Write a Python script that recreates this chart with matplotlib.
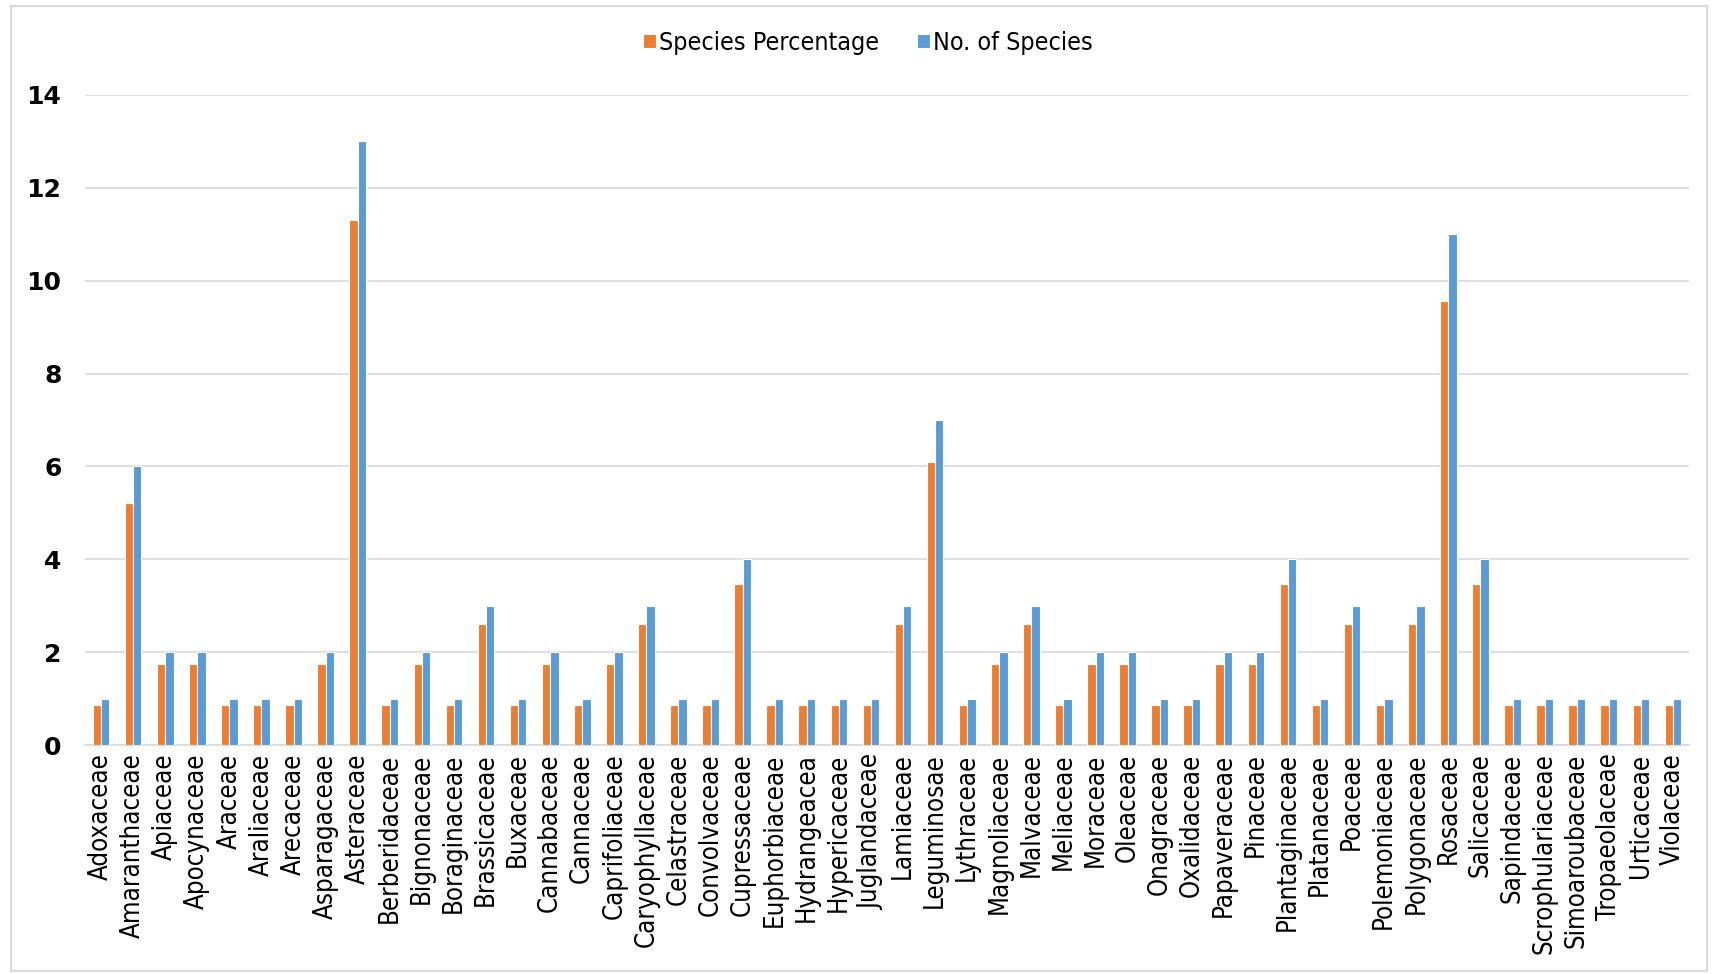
import numpy as np
import matplotlib.pyplot as plt
from matplotlib.patches import Rectangle
from matplotlib import font_manager

families = [
    'Adoxaceae', 'Amaranthaceae', 'Apiaceae', 'Apocynaceae', 'Araceae',
    'Araliaceae', 'Arecaceae', 'Asparagaceae', 'Asteraceae', 'Berberidaceae',
    'Bignonaceae', 'Boraginaceae', 'Brassicaceae', 'Buxaceae', 'Cannabaceae',
    'Cannaceae', 'Caprifoliaceae', 'Caryophyllaceae', 'Celastraceae', 'Convolvaceae',
    'Cupressaceae', 'Euphorbiaceae', 'Hydrangeacea', 'Hypericaceae', 'Juglandaceae',
    'Lamiaceae', 'Leguminosae', 'Lythraceae', 'Magnoliaceae', 'Malvaceae',
    'Meliaceae', 'Moraceae', 'Oleaceae', 'Onagraceae', 'Oxalidaceae',
    'Papaveraceae', 'Pinaceae', 'Plantaginaceae', 'Platanaceae', 'Poaceae',
    'Polemoniaceae', 'Polygonaceae', 'Rosaceae', 'Salicaceae', 'Sapindaceae',
    'Scrophulariaceae', 'Simoaroubaceae', 'Tropaeolaceae', 'Urticaceae', 'Violaceae',
]

n_species = [1, 6, 2, 2, 1, 1, 1, 2, 13, 1,
             2, 1, 3, 1, 2, 1, 2, 3, 1, 1,
             4, 1, 1, 1, 1, 3, 7, 1, 2, 3,
             1, 2, 2, 1, 1, 2, 2, 4, 1, 3,
             1, 3, 11, 4, 1, 1, 1, 1, 1, 1]

species_pct = [0.87, 5.22, 1.74, 1.74, 0.87, 0.87, 0.87, 1.74, 11.30, 0.87,
               1.74, 0.87, 2.61, 0.87, 1.74, 0.87, 1.74, 2.61, 0.87, 0.87,
               3.48, 0.87, 0.87, 0.87, 0.87, 2.61, 6.09, 0.87, 1.74, 2.61,
               0.87, 1.74, 1.74, 0.87, 0.87, 1.74, 1.74, 3.48, 0.87, 2.61,
               0.87, 2.61, 9.57, 3.48, 0.87, 0.87, 0.87, 0.87, 0.87, 0.87]

ORANGE = '#ED7D31'
BLUE = '#5B9BD5'
GRID = '#D9D9D9'

# narrow face for the category labels if one is around
installed = {f.name for f in font_manager.fontManager.ttflist}
if 'Liberation Sans Narrow' in installed:
    label_prop = dict(family='Liberation Sans Narrow', size=20)
    legend_prop = dict(family='Liberation Sans Narrow', size=19.5)
else:
    label_prop = dict(family='DejaVu Sans', stretch='condensed', size=18.5)
    legend_prop = dict(family='DejaVu Sans', stretch='condensed', size=18)

fig = plt.figure(figsize=(17.14, 9.74), dpi=100)
ax = fig.add_axes([0.0496, 0.235, 0.9358, 0.6675])

x = np.arange(len(families))
w = 0.26
ax.bar(x - w / 2, species_pct, w, color=ORANGE, edgecolor='white', linewidth=0.8,
       label='Species Percentage', zorder=3)
ax.bar(x + w / 2, n_species, w, color=BLUE, edgecolor='white', linewidth=0.8,
       label='No. of Species', zorder=3)

ax.set_xlim(-0.5, len(families) - 0.5)
ax.set_ylim(0, 14)
ax.set_yticks(range(0, 15, 2))
ax.yaxis.grid(True, color=GRID, linewidth=1.2, zorder=0)
ax.set_axisbelow(True)

for side in ['top', 'right', 'left']:
    ax.spines[side].set_visible(False)
ax.spines['bottom'].set_color(GRID)
ax.spines['bottom'].set_linewidth(1.2)

ax.set_xticks(x)
ax.set_xticklabels(families, rotation=90, **label_prop)
ax.tick_params(axis='x', length=0, pad=6)
ax.tick_params(axis='y', length=0, pad=17)
for t in ax.get_yticklabels():
    t.set_fontsize(18)
    t.set_fontweight('bold')
    t.set_family('DejaVu Sans')

fig.legend(loc='center', bbox_to_anchor=(0.5065, 0.956), ncol=2, frameon=False,
           prop=legend_prop,
           handlelength=0.5, handleheight=0.5, handletextpad=0.15, columnspacing=1.5)

# thin frame around the whole chart area
fig.patches.append(Rectangle((11 / 1714, 3 / 974), 1696 / 1714, 965 / 974,
                             transform=fig.transFigure, fill=False,
                             edgecolor=GRID, linewidth=1.5))

fig.savefig('out.png', dpi=100)
